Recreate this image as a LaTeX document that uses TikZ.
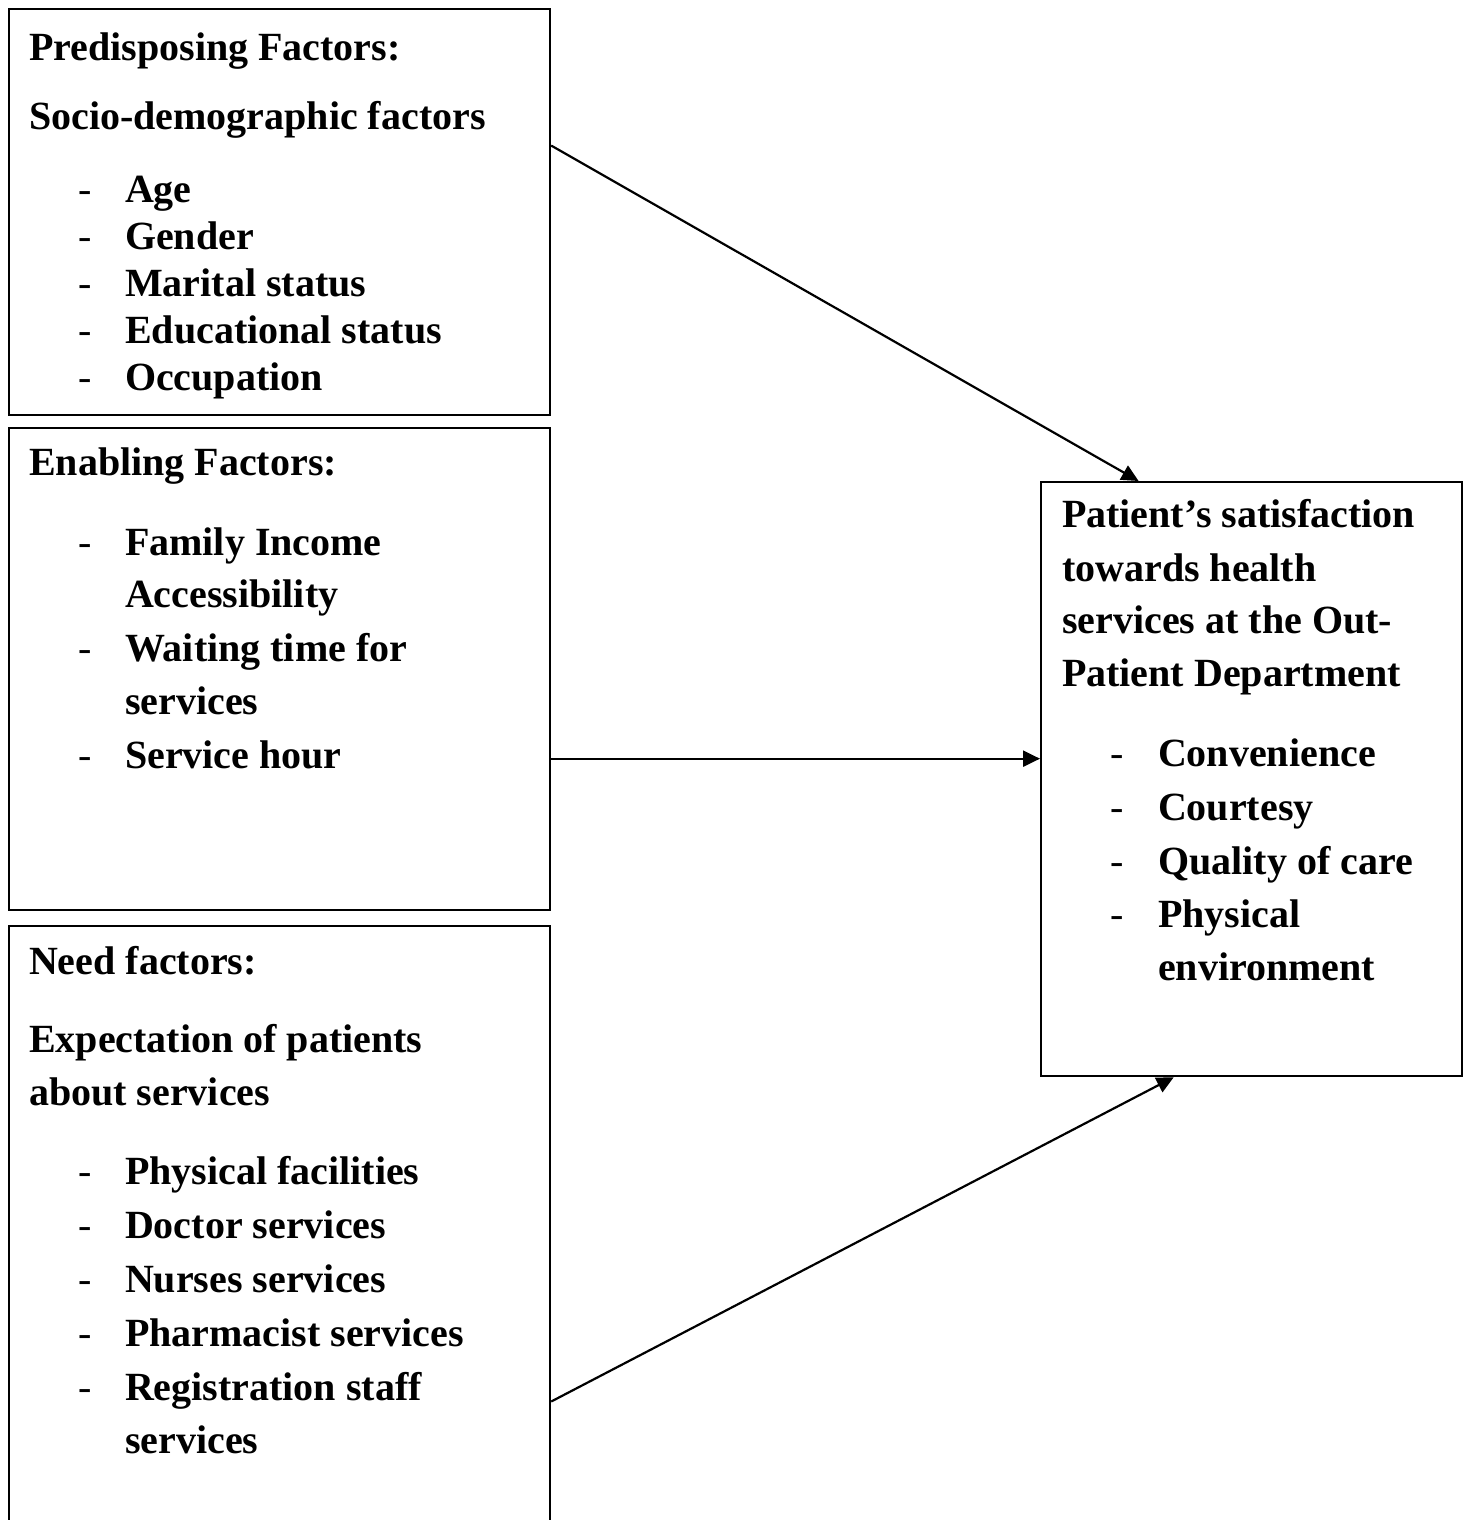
\documentclass[tikz,border=0pt]{standalone}
\usepackage{fontspec}
\setmainfont{Liberation Serif}
\usetikzlibrary{arrows.meta, calc, positioning}
\tikzset{>={Triangle[length=17pt, width=16pt]}}

\begin{document}
\begin{tikzpicture}[x=1pt, y=1pt, line width=2.2pt,
	box/.style={draw, rectangle, anchor=north west, inner sep=0pt},
	txt/.style={anchor=base west, inner sep=0pt, font=\fontsize{40}{47}\selectfont\bfseries},
	dsh/.style={anchor=base west, inner sep=0pt, font=\fontsize{40}{47}\selectfont\mdseries}]
		\path[use as bounding box, clip] (0,0) rectangle (1468,-1520);

		% boxes
		\node[box, minimum width=541pt, minimum height=406pt] (pre) at (8,-8) {};
		\node[box, minimum width=541pt, minimum height=482pt] (ena) at (8,-427) {};
		\node[box, minimum width=541pt, minimum height=640pt] (need) at (8,-925) {};
		\node[box, minimum width=421pt, minimum height=594pt] (sat) at (1040,-481) {};

		% predisposing
		\node[txt] (preh) at (28,-60) {Predisposing Factors:};
		\node[txt] (pres) at (28,-129) {Socio-demographic factors};
		\foreach \t/\y [count=\i] in {Age/202, Gender/249, Marital status/296, Educational status/343, Occupation/390}{
			\node[dsh] (pd\i) at (77,-\y) {-};
			\node[txt] (pi\i) at (124,-\y) {\t};
		}

		% enabling
		\node[txt] (enh) at (28,-475) {Enabling Factors:};
		\node[dsh] (ed1) at (77,-555) {-};
		\node[txt] (ei1) at (124,-555) {Family Income};
		\node[txt] (ei2) at (124,-607) {Accessibility};
		\node[dsh] (ed3) at (77,-661) {-};
		\node[txt] (ei3) at (124,-661) {Waiting time for};
		\node[txt] (ei4) at (124,-714) {services};
		\node[dsh] (ed5) at (77,-768) {-};
		\node[txt] (ei5) at (124,-768) {Service hour};

		% need
		\node[txt] (needh) at (28,-974) {Need factors:};
		\node[txt] (neede1) at (28,-1052) {Expectation of patients};
		\node[txt] (neede2) at (28,-1105) {about services};
		\foreach \t/\y [count=\i] in {Physical facilities/1184, Doctor services/1238, Nurses services/1292, Pharmacist services/1346, Registration staff/1400}{
			\node[dsh] (nd\i) at (77,-\y) {-};
			\node[txt] (ni\i) at (124,-\y) {\t};
		}
		\node[txt] (ni6) at (124,-1453) {services};

		% satisfaction
		\node[txt] (sath1) at (1061,-527) {Patient’s satisfaction};
		\node[txt] (sath2) at (1061,-581) {towards health};
		\node[txt] (sath3) at (1061,-633) {services at the Out-};
		\node[txt] (sath4) at (1061,-686) {Patient Department};
		\foreach \t/\y [count=\i] in {Convenience/766, Courtesy/820, Quality of care/874, Physical/927}{
			\node[dsh] (sd\i) at (1109,-\y) {-};
			\node[txt] (si\i) at (1157,-\y) {\t};
		}
		\node[txt] (si5) at (1157,-980) {environment};

		% arrows
		\draw[->] ($(pre.north east)!0.337!(pre.south east)$) -- ($(sat.north west)!0.233!(sat.north east)$);
		\draw[->] ($(ena.north east)!0.685!(ena.south east)$) coordinate (ea) -- (ea -| sat.west);
		\draw[->] ($(need.north east)!0.742!(need.south east)$) -- ($(sat.south west)!0.316!(sat.south east)$);
\end{tikzpicture}
\end{document}
